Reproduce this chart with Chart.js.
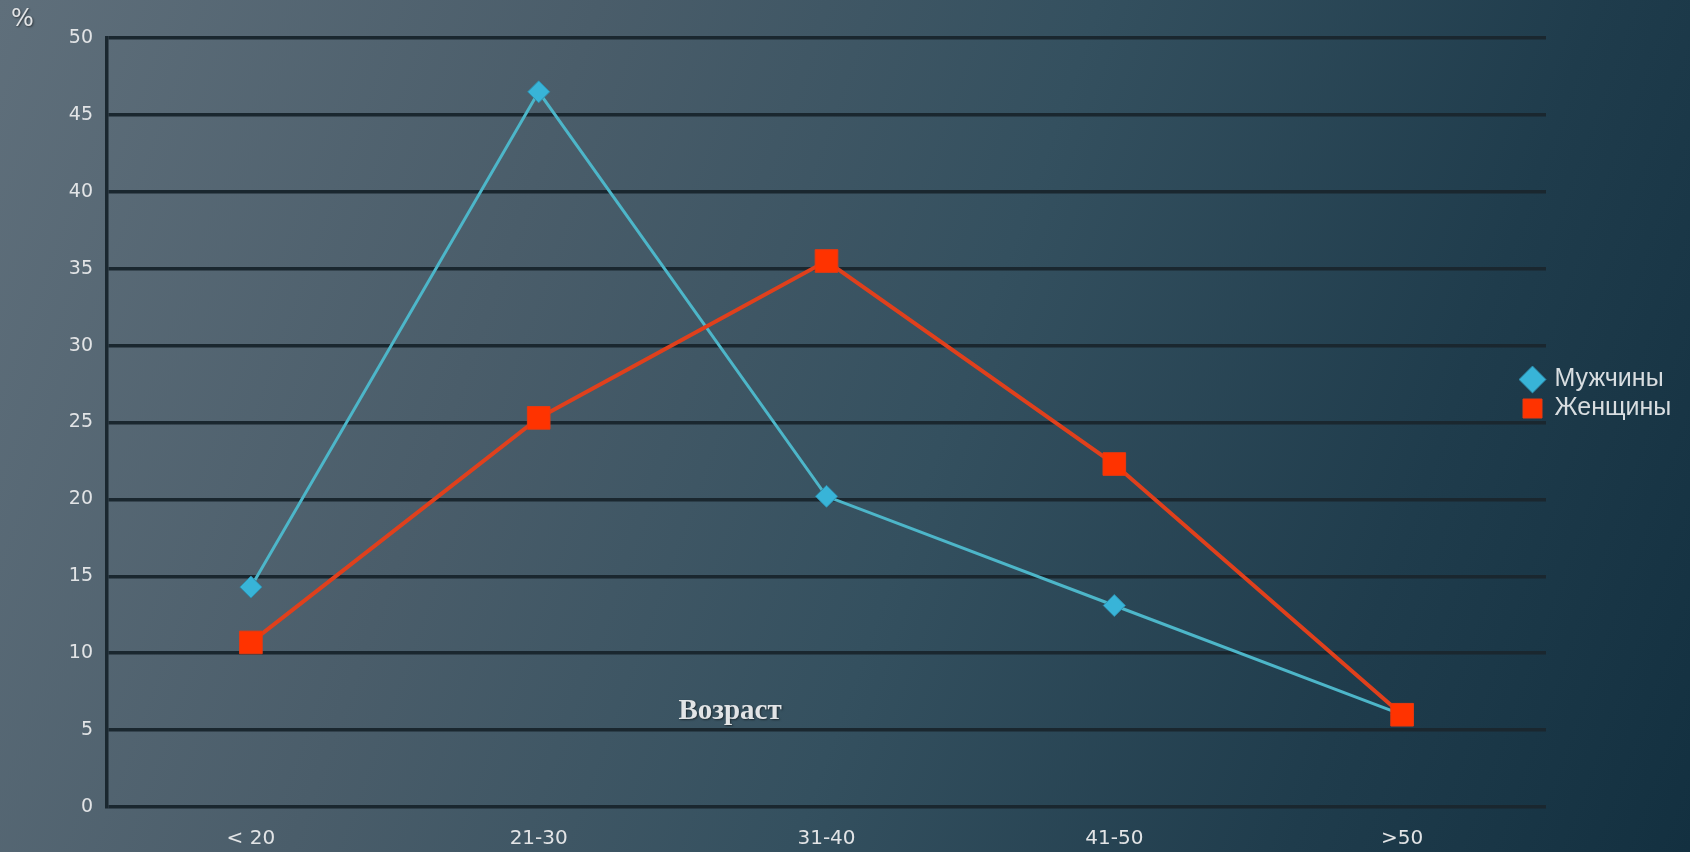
<!DOCTYPE html>
<html>
<head>
<meta charset="utf-8">
<script src="https://cdn.jsdelivr.net/npm/chart.js@4/dist/chart.umd.min.js"></script>
<style>
  html, body { margin: 0; padding: 0; }
  body {
    width: 1690px; height: 852px; overflow: hidden;
    background: linear-gradient(110deg, #5f6f7b 0%, #4a5d6a 30%, #34505f 55%, #1f3c4c 80%, #133040 100%);
  }
  #wrap { position: relative; width: 1690px; height: 852px; }
</style>
</head>
<body>
<div id="wrap"><canvas id="ageChart"></canvas></div>
<script>
// Age groups
const ageGroups = ["< 20", "21-30", "31-40", "41-50", ">50"];
// Share of each group, %
const menValues = [14.3, 46.5, 20.2, 13.1, 6.0];
const womenValues = [10.7, 25.3, 35.5, 22.3, 6.0];
// y axis ticks
const yTicks = [0, 5, 10, 15, 20, 25, 30, 35, 40, 45, 50];

const gridColor = "#1a272f";
const textColor = "#e2e4e6";

// extra texts + legend placement
const extras = {
  id: "extras",
  afterLayout(chart) {
    const lg = chart.legend;
    const w = lg.width, h = lg.height;
    lg.left = 1519; lg.right = lg.left + w;
    lg.top = 363; lg.bottom = lg.top + h;
  },
  afterDraw(chart) {
    const ctx = chart.ctx;
    ctx.save();
    ctx.fillStyle = textColor;
    ctx.shadowColor = "rgba(0,0,0,0.5)";
    ctx.shadowOffsetX = 1; ctx.shadowOffsetY = 1; ctx.shadowBlur = 2;
    ctx.font = "24px 'DejaVu Sans'";
    ctx.textAlign = "left"; ctx.textBaseline = "middle";
    ctx.fillText("%", 11, 20);
    ctx.font = "bold 29px 'Liberation Serif'";
    ctx.textAlign = "center";
    ctx.fillText("Возраст", 730, 712);
    ctx.restore();
  }
};

new Chart(document.getElementById("ageChart"), {
  type: "line",
  data: {
    labels: ageGroups,
    datasets: [{
      label: "Мужчины",
      data: menValues,
      borderColor: "#4db6c9",
      borderWidth: 3,
      pointStyle: "rectRot",
      pointRadius: 11,
      pointHoverRadius: 11,
      pointBackgroundColor: "#38b4d8",
      pointBorderColor: "#2f8fae",
      pointBorderWidth: 1,
      tension: 0,
      order: 1
    }, {
      label: "Женщины",
      data: womenValues,
      borderColor: "#e0401c",
      borderWidth: 4,
      pointStyle: "rect",
      pointRadius: 16,
      pointHoverRadius: 16,
      pointBackgroundColor: "#ff3300",
      pointBorderColor: "#e83a10",
      pointBorderWidth: 1,
      tension: 0,
      order: 0
    }]
  },
  options: {
    responsive: true,
    maintainAspectRatio: false,
    animation: false,
    layout: { padding: { left: 0, top: 38, right: 144, bottom: 0 } },
    plugins: {
      legend: {
        position: "chartArea",
        align: "start",
        labels: {
          usePointStyle: true,
          boxWidth: 19,
          boxHeight: 19,
          color: "#d8dde0",
          font: { family: "'Liberation Sans'", size: 25 },
          padding: 4,
          sort: (a, b) => a.datasetIndex - b.datasetIndex
        }
      },
      tooltip: { enabled: false }
    },
    scales: {
      x: {
        offset: true,
        grid: { display: false, drawTicks: false },
        border: { display: false },
        ticks: { color: textColor, font: { family: "'DejaVu Sans'", size: 20 }, padding: 20 },
        afterFit: s => { s.height = 45; }
      },
      y: {
        min: 0,
        max: 50,
        afterBuildTicks: s => { s.ticks = yTicks.map(v => ({ value: v })); },
        grid: { color: gridColor, lineWidth: 3.5, drawTicks: false },
        border: { display: true, color: gridColor, width: 3.5 },
        ticks: { color: textColor, font: { family: "'DejaVu Sans'", size: 19 }, padding: 14 },
        afterFit: s => { s.width = 107; }
      }
    }
  },
  plugins: [extras]
});
</script>
</body>
</html>
